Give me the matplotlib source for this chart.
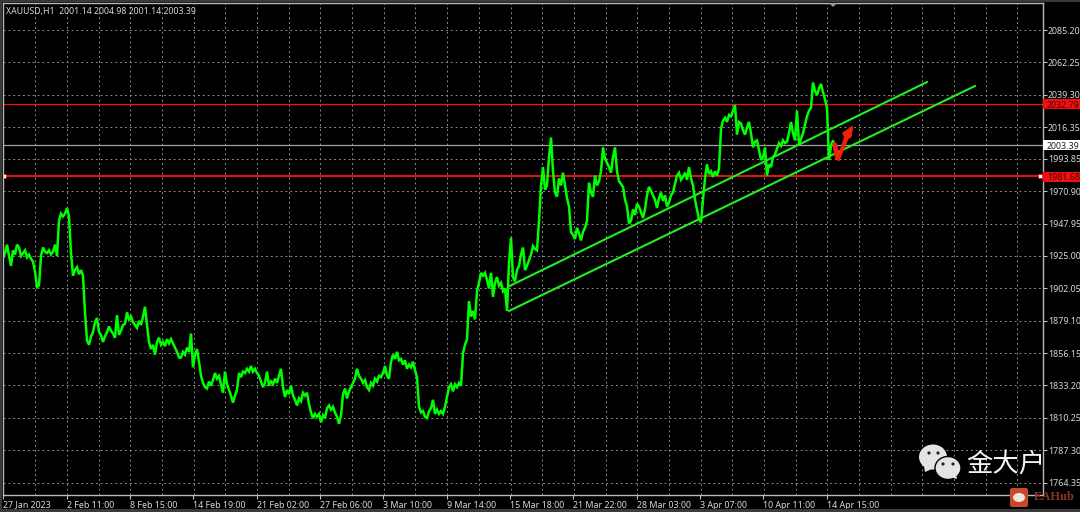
import matplotlib
matplotlib.use("Agg")
import matplotlib.pyplot as plt
from matplotlib.patches import Ellipse, Polygon, Rectangle, FancyBboxPatch

plt.rcParams['font.family'] = ['Noto Sans', 'DejaVu Sans']

# price, one value every 2 chart positions, 16 values per row
close = [
    1923.5, 1927, 1933, 1925, 1918, 1929, 1926, 1933, 1931, 1925, 1927, 1929, 1924, 1926, 1923, 1921,
    1914, 1903, 1904, 1925, 1931, 1928, 1927, 1929, 1926, 1928, 1933, 1925, 1950, 1955, 1953, 1955,
    1959, 1953, 1927, 1911, 1915, 1917, 1912, 1915, 1911, 1885, 1865, 1862, 1868, 1871, 1878, 1881,
    1871, 1869, 1864, 1868, 1871, 1875, 1872, 1870, 1867, 1883, 1869, 1872, 1876, 1877, 1885, 1880,
    1882, 1878, 1876, 1874, 1879, 1876, 1882, 1889, 1876, 1864, 1859, 1862, 1855, 1864, 1867, 1862,
    1864, 1861, 1866, 1863, 1866, 1863, 1860, 1857, 1853, 1853, 1857, 1855, 1860, 1857, 1870, 1846,
    1855, 1859, 1850, 1840, 1835, 1832, 1831, 1836, 1833, 1837, 1842, 1838, 1840, 1834, 1828, 1843,
    1834, 1830, 1826, 1821, 1826, 1830, 1842, 1839, 1843, 1842, 1845, 1843, 1847, 1843, 1845, 1842,
    1840, 1836, 1832, 1835, 1843, 1833, 1836, 1834, 1838, 1835, 1840, 1845, 1832, 1825, 1830, 1827,
    1833, 1826, 1823, 1819, 1824, 1822, 1828, 1826, 1828, 1820, 1814, 1810, 1813, 1811, 1813, 1807,
    1812, 1810, 1817, 1819, 1816, 1818, 1814, 1811, 1806, 1812, 1827, 1831, 1824, 1829, 1832, 1835,
    1838, 1845, 1840, 1838, 1835, 1837, 1832, 1830, 1835, 1833, 1838, 1836, 1840, 1839, 1842, 1847,
    1840, 1838, 1850, 1855, 1852, 1857, 1851, 1852, 1848, 1851, 1845, 1848, 1846, 1850, 1844, 1839,
    1818, 1814, 1815, 1811, 1810, 1815, 1817, 1823, 1813, 1816, 1813, 1815, 1813, 1818, 1825, 1832,
    1834, 1829, 1834, 1832, 1835, 1833, 1856, 1862, 1866, 1893, 1882, 1886, 1880, 1900, 1906, 1913,
    1911, 1913, 1908, 1902, 1913, 1896, 1906, 1910, 1904, 1906, 1900, 1902, 1886, 1920, 1938, 1910,
    1907, 1915, 1918, 1926, 1931, 1915, 1918, 1922, 1926, 1932, 1930, 1929, 1950, 1975, 1988, 1972,
    1975, 1995, 2009, 1985, 1970, 1967, 1980, 1975, 1984, 1975, 1966, 1960, 1942, 1940, 1937, 1945,
    1941, 1936, 1942, 1945, 1950, 1977, 1970, 1967, 1982, 1975, 1978, 1985, 2002, 1994, 1991, 1988,
    1984, 1995, 2002, 1985, 1978, 1976, 1974, 1965, 1960, 1948, 1950, 1958, 1954, 1962, 1960, 1956,
    1952, 1958, 1968, 1974, 1971, 1968, 1965, 1959, 1966, 1970, 1964, 1968, 1960, 1963, 1968, 1970,
    1976, 1982, 1984, 1979, 1981, 1984, 1979, 1988, 1980, 1975, 1965, 1958, 1951, 1949, 1965, 1980,
    1990, 1983, 1985, 1981, 1985, 1982, 1987, 2015, 2021, 2023, 2020, 2025, 2024, 2028, 2032, 2011,
    2020, 2019, 2014, 2011, 2016, 2020, 2012, 2002, 2006, 2007, 2000, 1993, 1995, 2002, 1982, 1990,
    1988, 1995, 1997, 2001, 2005, 2003, 2007, 2005, 2006, 2012, 2020, 2012, 2007, 2028, 2004, 2008,
    2012, 2018, 2024, 2028, 2030, 2048, 2042, 2039, 2044, 2047, 2041, 2036, 2030, 1993, 2003, 2007,
    2000]
bars = list(range(3, 836, 2))

price_ticks = [2085.20, 2062.25, 2039.30, 2016.35, 1993.85, 1970.90, 1947.95, 1925.00, 1902.05, 1879.10, 1856.15,
               1833.20, 1810.25, 1787.30, 1764.35]
date_ticks = [3, 67, 130, 193, 257, 320, 383, 447, 510, 573, 637, 700, 763, 827]
date_labels = ['27 Jan 2023', '2 Feb 11:00', '8 Feb 15:00', '14 Feb 19:00', '21 Feb 02:00', '27 Feb 06:00',
               '3 Mar 10:00', '9 Mar 14:00', '15 Mar 18:00', '21 Mar 22:00', '28 Mar 03:00', '3 Apr 07:00',
               '10 Apr 11:00', '14 Apr 15:00']
grid_bars = [35.3 + 31.68 * i for i in range(32)]

resist = 2032.79
support = 1981.68
last_price = 2003.39
upper_x = [509, 927]
upper_y = [1903.5, 2048.3]
lower_x = [509, 975]
lower_y = [1886.0, 2045.5]
arrow_x = [832.5, 836, 839, 844.5, 842.5, 853, 851, 848, 839, 835.5]
arrow_y = [2005.1, 2005.1, 1998.0, 2009.3, 2012.2, 2017.1, 2009.3, 2007.9, 1992.3, 1993.7]

W, H = 1080, 512
left, right, top, bottom = 3, 1042.5, 3, 495
fig = plt.figure(figsize=(W / 100, H / 100), dpi=100, facecolor='black')
ax = fig.add_axes([left / W, 1 - bottom / H, (right - left) / W, (bottom - top) / H], facecolor='black')
ax.set_xlim(left, right)
ax.set_ylim(2106.47 - 0.709 * bottom, 2106.47 - 0.709 * top)

for s in ax.spines.values():
    s.set_color('#b8b8b8')
    s.set_linewidth(1.0)

ax.set_xticks(grid_bars, minor=True)
ax.set_xticks(date_ticks)
ax.set_xticklabels(date_labels, ha='left', fontsize=6.4, color='#d8d8d8')
ax.set_yticks(price_ticks)
ax.set_yticklabels([f"{p:.2f}" for p in price_ticks], fontsize=6.4, color='#d8d8d8')
ax.yaxis.tick_right()
ax.tick_params(axis='x', which='major', length=3, color='#c0c0c0', pad=1, direction='out')
ax.tick_params(axis='x', which='minor', length=0)
ax.tick_params(axis='y', length=3, color='#c0c0c0', pad=1)
ax.grid(True, which='minor', axis='x', color='#8a8a8a', linestyle=(0, (2, 3)), linewidth=0.7)
ax.grid(True, which='major', axis='y', color='#8a8a8a', linestyle=(0, (2, 3)), linewidth=0.7)
ax.set_axisbelow(True)

ax.axhline(last_price, color='#a0a0a0', linewidth=0.9)
ax.axhline(resist, color='#f01010', linewidth=0.9)
ax.axhline(support, color='#f01010', linewidth=1.4)
ax.plot(bars, close, color='#00ff00', linewidth=1.8, solid_joinstyle='miter')
ax.plot(upper_x, upper_y, color='#22ee22', linewidth=1.5)
ax.plot(lower_x, lower_y, color='#22ee22', linewidth=1.5)
ax.add_patch(Polygon(list(zip(arrow_x, arrow_y)), closed=True, facecolor='#f4200c', edgecolor='#f4200c', linewidth=0.5,
                     zorder=4))
ax.plot([4, 1040], [support, support], linestyle='none', marker='s', markersize=2.2,
        markerfacecolor='white', markeredgecolor='red', markeredgewidth=0.6)

ax.text(0.003, 0.991, 'XAUUSD,H1  2001.14 2004.98 2001.14 2003.39', transform=ax.transAxes, fontsize=6.3,
        color='#d8d8d8', va='top', ha='left')

# overlay in image pixels for the scale tags, watermark and window edge
ov = fig.add_axes([0, 0, 1, 1], facecolor='none')
ov.set_xlim(0, W)
ov.set_ylim(H, 0)
ov.axis('off')

for val, ypix, bg, fg in [(resist, 104, '#f01010', '#4a0000'), (support, 176.5, '#f01010', '#4a0000'),
                          (last_price, 145, 'white', '#222222')]:
    ov.add_patch(Rectangle((1043, ypix - 5), 37, 10, facecolor=bg, edgecolor='none'))
    ov.text(1047, ypix + 0.3, f"{val:.2f}", fontsize=6.4, color=fg, va='center_baseline', ha='left')

ov.add_patch(Polygon([(829, 3), (837, 3), (833, 7)], closed=True, facecolor='#9a9a9a', edgecolor='none'))
ov.add_patch(Rectangle((0, 0), 2, H, facecolor='#3a3a3a', edgecolor='none'))
ov.add_patch(Rectangle((0, 0), W, 2, facecolor='#3a3a3a', edgecolor='none'))
ov.add_patch(Rectangle((0, 509), W, 3, facecolor='#3a3a3a', edgecolor='none'))

wm = '#e4e4e4'
ov.add_patch(Ellipse((933, 457), 28, 25, facecolor=wm, edgecolor='none'))
ov.add_patch(Polygon([(924, 466), (925, 472), (932, 469)], closed=True, facecolor=wm, edgecolor='none'))
ov.add_patch(Ellipse((948, 468), 26, 23, facecolor=wm, edgecolor='black', linewidth=1.0))
ov.add_patch(Polygon([(951, 477), (957, 479), (956, 474)], closed=True, facecolor=wm, edgecolor='none'))
for ex, ey in [(929, 453), (938, 453), (943, 464), (953, 464)]:
    ov.add_patch(Ellipse((ex, ey), 3.2, 3.2, facecolor='#222222', edgecolor='none'))
ov.text(966, 464, '金大户', fontsize=19, color='#f4f4f4', va='center', ha='left',
        family=['Noto Sans CJK SC', 'DejaVu Sans'])
ov.add_patch(FancyBboxPatch((1010, 488), 18, 19, boxstyle='round,pad=0,rounding_size=2', facecolor='#c8482c',
                            edgecolor='none'))
ov.add_patch(Ellipse((1019, 497.5), 12, 9, facecolor='#f0e4dc', edgecolor='none'))
ov.text(1034, 497.5, 'EAHub', fontsize=9, color='#8c3422', va='center', ha='left', fontweight='bold',
        family=['Liberation Serif', 'DejaVu Serif'])

fig.savefig('out.png', dpi=100, facecolor='black')
